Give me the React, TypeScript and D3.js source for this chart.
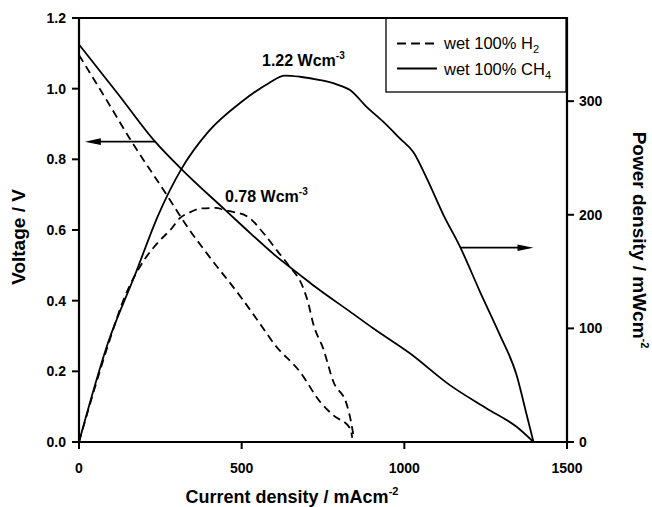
import React from "react";
import * as d3 from "d3";

// ---- data ----
const currentTicks = [0, 500, 1000, 1500];
const voltageTicks = [0, 0.2, 0.4, 0.6, 0.8, 1.0, 1.2];
const powerTicks = [0, 100, 200, 300];

// wet 100% H2 — voltage (V) vs current density (mA/cm2)
const h2VoltI = [0, 80, 162, 270, 336, 397, 500, 560, 602, 679, 741, 781, 833, 840];
const h2VoltV = [1.095, 0.975, 0.85, 0.699, 0.605, 0.529, 0.407, 0.33, 0.275, 0.199, 0.114, 0.076, 0.039, 0.012];

// wet 100% CH4 — voltage
const ch4VoltI = [0, 120, 234, 314, 449, 510, 602, 679, 725, 833, 904, 1017, 1140, 1253, 1345, 1397];
const ch4VoltV = [1.125, 0.985, 0.85, 0.773, 0.657, 0.605, 0.529, 0.473, 0.44, 0.369, 0.322, 0.251, 0.161, 0.095, 0.043, 0.0];

// wet 100% H2 — power density (mW/cm2)
const h2PowI = [0, 50, 90, 141, 200, 244, 285, 310, 340, 377, 420, 449, 473, 520, 575, 610, 643, 690, 705, 720, 751, 782, 823, 838, 845];
const h2PowP = [0, 49, 86, 128, 160, 176, 188, 197, 202, 205.6, 206, 204, 202.6, 198, 181, 168, 156, 135, 122, 104, 82, 53, 33, 15, 3];

// wet 100% CH4 — power density
const ch4PowI = [0, 90, 172, 244, 314, 397, 500, 582, 633, 679, 741, 790, 833, 884, 935, 987, 1028, 1069, 1120, 1171, 1233, 1294, 1345, 1376, 1397];
const ch4PowP = [0, 88, 147, 200, 240, 273, 299.5, 315.6, 322.5, 321.5, 318.6, 315, 309.8, 295, 282, 267, 255, 232, 200, 172, 132, 94, 59, 24, 0];

const seriesNames = ["wet 100% H", "wet 100% CH"];
const seriesSubs = ["2", "4"];

const FONT = "'Liberation Sans', Arial, Helvetica, sans-serif";

export default function App() {
  const W = 652;
  const H = 507;
  const L = 79, R = 567, T = 18, B = 442;

  const x = d3.scaleLinear().domain([0, 1500]).range([L, R]);
  const yV = d3.scaleLinear().domain([0, 1.2]).range([B, T]);
  const yP = d3.scaleLinear().domain([0, 373.2]).range([B, T]);

  const zip = (a: number[], b: number[]) => a.map((v, i) => [v, b[i]] as [number, number]);

  const lineV = d3.line<[number, number]>().x((d) => x(d[0])).y((d) => yV(d[1])).curve(d3.curveMonotoneX);
  const lineP = d3.line<[number, number]>().x((d) => x(d[0])).y((d) => yP(d[1])).curve(d3.curveMonotoneX);

  const dash = "8,5";
  const lw = 1.8;

  const arrowL = { y: yV(0.85), x1: x(234), x2: x(18) };
  const arrowR = { y: yP(171), x1: x(1171), x2: x(1397) };

  return (
    <svg width={W} height={H} style={{ position: "absolute", left: 0, top: 0, background: "#fff" }} fontFamily={FONT}>
      <rect x={0} y={0} width={W} height={H} fill="#fff" />

      {/* curves */}
      <path d={lineV(zip(h2VoltI, h2VoltV)) || ""} fill="none" stroke="#000" strokeWidth={lw} strokeDasharray={dash} />
      <path d={lineP(zip(h2PowI, h2PowP)) || ""} fill="none" stroke="#000" strokeWidth={lw} strokeDasharray={dash} />
      <path d={lineV(zip(ch4VoltI, ch4VoltV)) || ""} fill="none" stroke="#000" strokeWidth={lw} />
      <path d={lineP(zip(ch4PowI, ch4PowP)) || ""} fill="none" stroke="#000" strokeWidth={lw} />

      {/* frame */}
      <line x1={L} y1={T} x2={R} y2={T} stroke="#000" strokeWidth={2.2} />
      <line x1={L} y1={T - 1} x2={L} y2={B + 1} stroke="#000" strokeWidth={2.2} />
      <line x1={R} y1={T - 1} x2={R} y2={B + 1} stroke="#000" strokeWidth={2.2} />
      <line x1={L - 1} y1={B} x2={R + 1} y2={B} stroke="#000" strokeWidth={2.2} />

      {/* left axis */}
      {voltageTicks.map((t) => (
        <g key={"v" + t}>
          <line x1={L - 7} x2={L} y1={yV(t)} y2={yV(t)} stroke="#000" strokeWidth={2} />
          <text x={L - 13} y={yV(t)} dy="0.36em" textAnchor="end" fontSize={14} fontWeight="bold">
            {d3.format(".1f")(t)}
          </text>
        </g>
      ))}

      {/* right axis */}
      {powerTicks.map((t) => (
        <g key={"p" + t}>
          <line x1={R} x2={R + 7} y1={yP(t)} y2={yP(t)} stroke="#000" strokeWidth={2} />
          <text x={R + 12} y={yP(t)} dy="0.36em" textAnchor="start" fontSize={14} fontWeight="bold">
            {t}
          </text>
        </g>
      ))}

      {/* bottom axis */}
      {currentTicks.map((t) => (
        <g key={"c" + t}>
          <line x1={x(t)} x2={x(t)} y1={B} y2={B + 7} stroke="#000" strokeWidth={2} />
          <text x={x(t)} y={472.5} textAnchor="middle" fontSize={14} fontWeight="bold">
            {t}
          </text>
        </g>
      ))}

      {/* axis titles */}
      <text x={292} y={503} textAnchor="middle" fontSize={18} fontWeight="bold">
        Current density / mAcm<tspan fontSize={11} dy={-8}>-2</tspan>
      </text>
      <text transform={`translate(25,237) rotate(-90)`} textAnchor="middle" fontSize={19} fontWeight="bold">
        Voltage / V
      </text>
      <text transform={`translate(633,240) rotate(90)`} textAnchor="middle" fontSize={19} fontWeight="bold">
        Power density / mWcm<tspan fontSize={11} dy={-8}>-2</tspan>
      </text>

      {/* annotations */}
      <text x={262} y={66} fontSize={16} fontWeight="bold">
        1.22 Wcm<tspan fontSize={10} dy={-7}>-3</tspan>
      </text>
      <text x={225} y={202} fontSize={16} fontWeight="bold">
        0.78 Wcm<tspan fontSize={10} dy={-7}>-3</tspan>
      </text>

      {/* arrows */}
      <line x1={arrowL.x1} x2={arrowL.x2 + 12} y1={arrowL.y} y2={arrowL.y} stroke="#000" strokeWidth={1.8} />
      <path d={`M${arrowL.x2},${arrowL.y} L${arrowL.x2 + 16},${arrowL.y - 3.3} L${arrowL.x2 + 16},${arrowL.y + 3.3} Z`} fill="#000" />
      <line x1={arrowR.x1} x2={arrowR.x2 - 12} y1={arrowR.y} y2={arrowR.y} stroke="#000" strokeWidth={1.8} />
      <path d={`M${arrowR.x2},${arrowR.y} L${arrowR.x2 - 16},${arrowR.y - 3.3} L${arrowR.x2 - 16},${arrowR.y + 3.3} Z`} fill="#000" />

      {/* legend */}
      <rect x={386} y={T} width={180} height={74} fill="#fff" stroke="#000" strokeWidth={1.3} />
      <line x1={397} x2={437} y1={43.5} y2={43.5} stroke="#000" strokeWidth={2} strokeDasharray="9,5" />
      <line x1={397} x2={437} y1={68.5} y2={68.5} stroke="#000" strokeWidth={2} />
      {seriesNames.map((n, i) => (
        <text key={n} x={444} y={i === 0 ? 48.5 : 75} fontSize={16.5}>
          {n}
          <tspan fontSize={11} dy={4}>{seriesSubs[i]}</tspan>
        </text>
      ))}
      <line x1={L} y1={T} x2={R} y2={T} stroke="#000" strokeWidth={2.2} />
    </svg>
  );
}
